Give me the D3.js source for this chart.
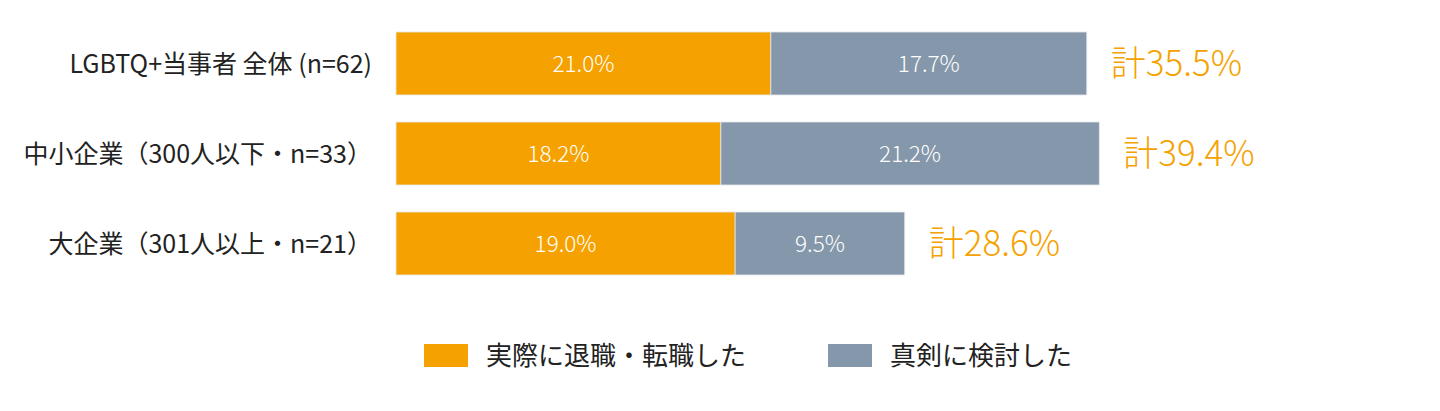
<!DOCTYPE html>
<html>
<head>
<meta charset="utf-8">
<script src="https://cdn.jsdelivr.net/npm/d3@7"></script>
<style>
  body { margin: 0; background: #fff; }
  svg text { font-family: "Noto Sans CJK JP", "Noto Sans", sans-serif; }
  .light { font-weight: 300; }
</style>
</head>
<body>
<div id="chart"></div>
<script>
// 回答の区分
const categories = ["LGBTQ+当事者 全体 (n=62)", "中小企業（300人以下・n=33）", "大企業（301人以上・n=21）"]
const seriesNames = ["実際に退職・転職した", "真剣に検討した"]
const retired = [21.0, 18.2, 19.0]
const considered = [17.7, 21.2, 9.5]
const totals = ["計35.5%", "計39.4%", "計28.6%"]

const colors = ["#f5a200", "#8597aa"]
const W = 1440, H = 411

const svg = d3.select("#chart")
    .append("svg")
    .attr("width", W)
    .attr("height", H)

let x = d3.scaleLinear().domain([0, 40]).range([396, 1110])
let y = d3.scaleBand().domain(categories).range([32, 275]).paddingInner(0.3).paddingOuter(0)

let rows = categories.map((c, i) => ({ cat: c, vals: [retired[i], considered[i]], total: totals[i] }))
let stack = d3.stack().keys([0, 1]).value((d, k) => d.vals[k])(rows)

let g = svg.append("g")
stack.forEach((layer, k) => {
    g.selectAll(".bar" + k)
        .data(layer)
        .join("rect")
        .attr("x", d => x(d[0]))
        .attr("y", d => y(d.data.cat))
        .attr("width", d => x(d[1]) - x(d[0]))
        .attr("height", y.bandwidth())
        .attr("fill", colors[k])
        .attr("stroke", "#e4e8ee")
        .attr("stroke-width", 0.8)

    g.selectAll(".val" + k)
        .data(layer)
        .join("text")
        .attr("class", "light")
        .attr("x", d => (x(d[0]) + x(d[1])) / 2)
        .attr("y", d => y(d.data.cat) + y.bandwidth() / 2)
        .attr("dy", "0.36em")
        .attr("text-anchor", "middle")
        .attr("fill", "#fff")
        .attr("font-size", 22.5)
        .text(d => d.data.vals[k].toFixed(1) + "%")
})

// 合計
g.selectAll(".total")
    .data(rows)
    .join("text")
    .attr("class", "light")
    .attr("x", d => x(d.vals[0] + d.vals[1]) + 24)
    .attr("y", d => y(d.cat) + y.bandwidth() / 2)
    .attr("dy", "0.36em")
    .attr("fill", colors[0])
    .attr("font-size", 35)
    .text(d => d.total)

// カテゴリーラベル
g.selectAll(".cat")
    .data(categories)
    .join("text")
    .attr("x", 372)
    .attr("y", d => y(d) + y.bandwidth() / 2)
    .attr("dy", "0.36em")
    .attr("text-anchor", "end")
    .attr("fill", "#222")
    .attr("font-size", 25)
    .text(d => d)

// 凡例
let legend = svg.append("g")
    .selectAll("g")
    .data(seriesNames)
    .join("g")
    .attr("transform", (d, i) => `translate(${424 + i * 404},344)`)
legend.append("rect")
    .attr("width", 44)
    .attr("height", 23)
    .attr("fill", (d, i) => colors[i])
legend.append("text")
    .attr("x", 62)
    .attr("y", 11.5)
    .attr("dy", "0.36em")
    .attr("fill", "#222")
    .attr("font-size", 26)
    .text(d => d)
</script>
</body>
</html>
